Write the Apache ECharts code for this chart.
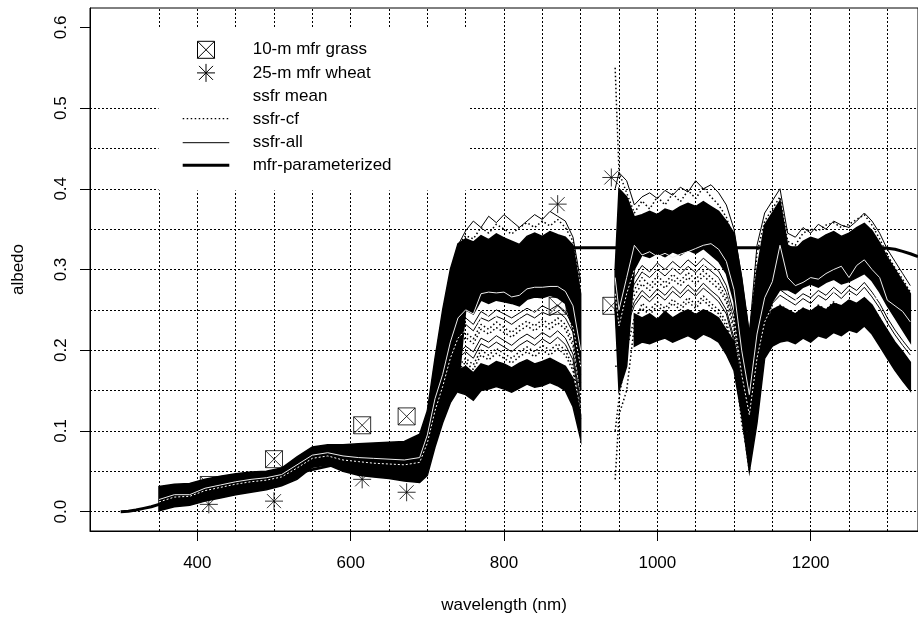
<!DOCTYPE html>
<html>
<head>
<meta charset="utf-8">
<script src="https://cdn.jsdelivr.net/npm/echarts@6/dist/echarts.min.js"></script>
<style>
html,body{margin:0;padding:0;background:#fff;}
#c{width:918px;height:619px;}
</style>
</head>
<body>
<div id="c"></div>
<script>
// ---------------- data ----------------
const wavelength = [350,370,390,410,430,450,470,490,510,530,550,570,590,610,630,650,670,690,
  700,710,720,730,740,750,760,770,780,790,800,810,820,830,840,850,860,870,880,890,900,
  925,
  945,950,960,970,980,990,1000,1010,1020,1030,1040,1050,1060,1070,1080,1090,1100,1110,1120,1130,
  1140,1150,1160,1170,1180,1190,1200,1210,1220,1230,1240,1250,1260,1270,1280,1290,1300,1310,1320,1330];

// dense part of the ssfr spectra cloud (upper block)
const ssfrDenseTop = [0.031,0.034,0.035,0.040,0.044,0.047,0.049,0.050,0.054,0.068,0.080,0.083,0.083,0.084,0.085,0.086,0.087,0.096,
  0.125,0.19,0.25,0.30,0.332,0.338,0.334,0.342,0.337,0.344,0.339,0.335,0.331,0.341,0.345,0.341,0.347,0.343,0.34,0.33,0.27,
  null,
  0.30,0.40,0.39,0.365,0.368,0.372,0.368,0.375,0.372,0.378,0.382,0.378,0.384,0.378,0.372,0.36,0.345,0.29,0.22,0.30,
  0.355,0.37,0.385,0.33,0.325,0.335,0.34,0.337,0.343,0.347,0.341,0.345,0.352,0.357,0.348,0.333,0.315,0.30,0.285,0.27];
const ssfrDenseBottom = [0.001,0.006,0.008,0.013,0.017,0.021,0.024,0.027,0.032,0.040,0.055,0.058,0.050,0.045,0.043,0.041,0.038,0.036,
  0.045,0.08,0.11,0.135,0.15,0.25,0.245,0.262,0.258,0.262,0.26,0.258,0.255,0.263,0.266,0.265,0.268,0.265,0.258,0.225,0.15,
  null,
  0.25,0.15,0.18,0.30,0.318,0.315,0.32,0.316,0.322,0.318,0.324,0.32,0.326,0.318,0.31,0.295,0.26,0.16,0.08,0.14,
  0.22,0.26,0.275,0.275,0.27,0.278,0.282,0.278,0.284,0.288,0.282,0.285,0.29,0.295,0.286,0.272,0.255,0.24,0.225,0.21];
// dense lower block
const ssfrLowTop = [null,null,null,null,null,null,null,null,null,null,null,null,null,null,null,null,null,null,
  null,null,null,null,0.175,0.18,0.172,0.183,0.18,0.186,0.183,0.178,0.184,0.188,0.183,0.186,0.19,0.185,0.18,0.165,0.12,
  null,
  null,null,null,0.245,0.24,0.245,0.238,0.248,0.24,0.246,0.25,0.244,0.25,0.246,0.24,0.225,0.21,0.16,0.08,0.14,
  0.225,0.25,0.255,0.25,0.245,0.252,0.248,0.255,0.25,0.258,0.255,0.262,0.258,0.265,0.256,0.24,0.225,0.21,0.198,0.185];
const ssfrLowBottom = [null,null,null,null,null,null,null,null,null,null,null,null,null,null,null,null,null,null,
  null,null,null,null,0.148,0.145,0.138,0.15,0.152,0.155,0.152,0.148,0.153,0.158,0.154,0.156,0.16,0.156,0.15,0.13,0.09,
  null,
  null,null,null,0.205,0.21,0.208,0.212,0.215,0.21,0.214,0.218,0.213,0.22,0.216,0.21,0.195,0.175,0.12,0.05,0.11,
  0.19,0.205,0.21,0.212,0.208,0.215,0.21,0.218,0.215,0.222,0.218,0.225,0.222,0.23,0.22,0.205,0.19,0.175,0.162,0.15];

// individual ssfr-all spectra (thin solid)
const ssfrAllA = [0.018,0.022,0.024,0.028,0.031,0.035,0.038,0.040,0.044,0.055,0.066,0.069,0.064,0.061,0.059,0.057,0.056,0.06,
  0.085,0.125,0.16,0.195,0.228,0.24,0.232,0.248,0.242,0.25,0.245,0.24,0.246,0.252,0.247,0.255,0.25,0.256,0.248,0.23,0.17,
  null,
  0.28,0.22,0.27,0.29,0.305,0.297,0.308,0.3,0.31,0.302,0.312,0.304,0.314,0.306,0.298,0.28,0.245,0.18,0.12,0.2,
  0.25,0.265,0.275,0.268,0.262,0.27,0.265,0.274,0.268,0.278,0.27,0.28,0.274,0.284,0.272,0.258,0.24,0.225,0.212,0.2];
const ssfrAllB = [0.011,0.014,0.016,0.021,0.024,0.028,0.031,0.033,0.037,0.047,0.06,0.062,0.056,0.052,0.049,0.047,0.045,0.048,
  0.068,0.1,0.135,0.165,0.195,0.205,0.198,0.215,0.21,0.218,0.212,0.206,0.214,0.22,0.214,0.222,0.216,0.224,0.215,0.195,0.135,
  null,
  0.26,0.19,0.235,0.26,0.274,0.265,0.276,0.268,0.279,0.27,0.281,0.272,0.283,0.274,0.266,0.25,0.215,0.15,0.1,0.16,
  0.215,0.235,0.243,0.237,0.232,0.24,0.234,0.244,0.238,0.248,0.24,0.25,0.243,0.253,0.242,0.228,0.212,0.198,0.185,0.172];
const ssfrAllC = [0.029,0.032,0.033,0.038,0.041,0.044,0.046,0.048,0.052,0.065,0.077,0.08,0.079,0.08,0.081,0.082,0.083,0.09,
  0.115,0.18,0.24,0.29,0.33,0.348,0.36,0.352,0.366,0.358,0.368,0.36,0.352,0.36,0.368,0.362,0.372,0.366,0.36,0.34,0.285,
  null,
  0.40,0.42,0.41,0.38,0.39,0.395,0.388,0.398,0.392,0.402,0.396,0.41,0.4,0.405,0.395,0.38,0.35,0.29,0.22,0.33,
  0.37,0.385,0.4,0.345,0.34,0.352,0.345,0.356,0.35,0.36,0.355,0.352,0.36,0.37,0.36,0.345,0.325,0.31,0.295,0.28];
const ssfrAllD = [0.016,0.02,0.022,0.026,0.03,0.033,0.036,0.038,0.042,0.052,0.064,0.067,0.062,0.058,0.056,0.054,0.053,0.057,
  0.08,0.118,0.152,0.188,0.22,0.232,0.224,0.24,0.236,0.242,0.238,0.232,0.239,0.245,0.24,0.247,0.243,0.248,0.24,0.222,0.16,
  null,
  0.27,0.21,0.26,0.282,0.297,0.29,0.3,0.292,0.302,0.294,0.304,0.296,0.306,0.298,0.29,0.272,0.238,0.17,0.11,0.19,
  0.242,0.258,0.268,0.262,0.256,0.264,0.258,0.268,0.262,0.272,0.264,0.274,0.268,0.278,0.266,0.252,0.234,0.219,0.206,0.194];
const ssfrAllE = [0.01,0.013,0.015,0.02,0.023,0.027,0.03,0.032,0.036,0.046,0.059,0.061,0.055,0.051,0.048,0.046,0.044,0.047,
  0.064,0.096,0.13,0.16,0.19,0.198,0.19,0.208,0.203,0.21,0.204,0.198,0.206,0.212,0.206,0.214,0.208,0.216,0.207,0.188,0.128,
  null,
  0.25,0.18,0.23,0.255,0.268,0.26,0.27,0.262,0.273,0.265,0.275,0.267,0.277,0.269,0.26,0.245,0.21,0.14,0.09,0.155,
  0.21,0.23,0.238,0.232,0.227,0.234,0.229,0.238,0.233,0.242,0.235,0.245,0.238,0.248,0.237,0.222,0.207,0.193,0.18,0.168];
// individual ssfr-cf spectra (dotted)
const ssfrCfA = [0.014,0.017,0.019,0.024,0.027,0.031,0.034,0.036,0.040,0.050,0.062,0.065,0.059,0.055,0.053,0.051,0.049,0.053,
  0.075,0.11,0.145,0.18,0.21,0.222,0.214,0.232,0.226,0.235,0.228,0.222,0.23,0.236,0.23,0.238,0.232,0.24,0.232,0.21,0.15,
  null,
  0.2,0.2,0.25,0.275,0.29,0.28,0.292,0.283,0.294,0.286,0.296,0.288,0.298,0.29,0.282,0.265,0.23,0.16,0.08,0.17,
  0.23,0.248,0.256,0.25,0.244,0.252,0.246,0.256,0.25,0.26,0.252,0.262,0.255,0.265,0.254,0.24,0.222,0.208,0.195,0.183];
const ssfrCfB = [0.008,0.011,0.013,0.018,0.021,0.025,0.028,0.030,0.034,0.044,0.058,0.06,0.054,0.05,0.047,0.045,0.042,0.044,
  0.06,0.09,0.125,0.155,0.18,0.19,0.182,0.2,0.194,0.202,0.196,0.19,0.198,0.204,0.198,0.206,0.2,0.208,0.2,0.18,0.12,
  null,
  0.04,0.12,0.15,0.23,0.258,0.25,0.26,0.252,0.263,0.255,0.265,0.257,0.267,0.258,0.25,0.235,0.2,0.12,0.05,0.14,
  0.2,0.222,0.23,0.225,0.22,0.228,0.222,0.232,0.226,0.236,0.228,0.238,0.231,0.241,0.23,0.216,0.2,0.186,0.173,0.16];
const ssfrCfC = [0.03,0.033,0.034,0.039,0.042,0.045,0.047,0.049,0.053,0.066,0.078,0.081,0.08,0.082,0.083,0.084,0.085,0.093,
  0.12,0.185,0.245,0.295,0.33,0.342,0.338,0.352,0.345,0.356,0.35,0.344,0.352,0.358,0.352,0.36,0.354,0.362,0.352,0.335,0.28,
  null,
  0.55,0.42,0.395,0.37,0.385,0.375,0.39,0.38,0.394,0.384,0.398,0.388,0.402,0.39,0.38,0.365,0.335,0.28,0.21,0.32,
  0.36,0.375,0.39,0.335,0.33,0.345,0.35,0.348,0.355,0.358,0.352,0.356,0.362,0.368,0.355,0.338,0.318,0.302,0.288,0.272];
const ssfrCfD = [0.013,0.016,0.018,0.023,0.026,0.03,0.033,0.035,0.039,0.049,0.061,0.064,0.058,0.054,0.052,0.05,0.048,0.052,
  0.072,0.106,0.14,0.175,0.205,0.216,0.208,0.226,0.22,0.228,0.222,0.216,0.224,0.23,0.224,0.232,0.226,0.234,0.226,0.205,0.145,
  null,
  0.18,0.18,0.24,0.268,0.282,0.274,0.285,0.277,0.288,0.28,0.29,0.282,0.292,0.284,0.276,0.26,0.225,0.155,0.075,0.165,
  0.225,0.242,0.25,0.245,0.24,0.247,0.241,0.25,0.245,0.255,0.247,0.257,0.25,0.26,0.249,0.235,0.218,0.204,0.19,0.178];
const ssfrCfE = [0.007,0.01,0.012,0.017,0.02,0.024,0.027,0.029,0.033,0.043,0.057,0.059,0.053,0.049,0.046,0.044,0.041,0.043,
  0.058,0.088,0.12,0.15,0.175,0.185,0.176,0.194,0.188,0.196,0.19,0.184,0.192,0.198,0.192,0.2,0.194,0.202,0.194,0.175,0.115,
  null,
  0.1,0.14,0.2,0.24,0.252,0.244,0.255,0.247,0.258,0.25,0.26,0.252,0.262,0.253,0.245,0.23,0.195,0.11,0.06,0.13,
  0.195,0.218,0.226,0.22,0.215,0.222,0.217,0.227,0.221,0.231,0.223,0.233,0.226,0.236,0.225,0.21,0.195,0.181,0.168,0.156];

// ssfr means (white)
const ssfrMeanAll = [0.015,0.021,0.021,0.029,0.033,0.037,0.040,0.042,0.046,0.058,0.070,0.073,0.069,0.067,0.066,0.065,0.064,0.067,
  0.095,0.14,0.17,0.21,0.24,0.25,0.245,0.27,0.272,0.271,0.272,0.266,0.268,0.276,0.278,0.278,0.279,0.279,0.273,0.255,0.2,
  null,
  0.29,0.25,0.29,0.33,0.318,0.322,0.316,0.32,0.315,0.319,0.322,0.326,0.33,0.332,0.325,0.31,0.275,0.2,0.145,0.22,
  0.265,0.285,0.33,0.29,0.28,0.284,0.29,0.288,0.295,0.3,0.304,0.29,0.305,0.312,0.3,0.29,0.262,0.255,0.248,0.235];
const ssfrMeanCf = [0.012,0.018,0.019,0.026,0.030,0.034,0.037,0.039,0.043,0.054,0.066,0.069,0.064,0.062,0.060,0.059,0.058,0.061,
  0.085,0.125,0.155,0.19,0.215,0.225,0.22,0.24,0.243,0.242,0.243,0.238,0.24,0.247,0.249,0.248,0.25,0.249,0.244,0.228,0.18,
  null,
  0.27,0.23,0.27,0.3,0.298,0.292,0.3,0.295,0.302,0.298,0.305,0.3,0.306,0.3,0.292,0.275,0.24,0.17,0.12,0.19,
  0.235,0.255,0.262,0.258,0.262,0.266,0.262,0.27,0.265,0.272,0.268,0.276,0.27,0.28,0.27,0.26,0.245,0.232,0.22,0.205];

// mfr-parameterized spectrum
const mfrWavelength = [300,310,320,330,340,350,400,450,500,550,600,650,680,690,700,710,720,730,740,750,800,900,1000,1100,1200,1280,1290,1300,1310,1320,1330,1340];
const mfrParameterized = [0,0.0005,0.002,0.004,0.006,0.009,0.0198,0.0306,0.041,0.052,0.0626,0.068,0.07,0.075,0.09,0.14,0.2,0.26,0.305,0.325,0.327,0.327,0.327,0.327,0.327,0.327,0.3268,0.3262,0.325,0.3225,0.3195,0.316];

// MFR channel albedos
const mfrChannels = [415, 500, 615, 673, 870, 940];
const grass10m = [0.033, 0.065, 0.107, 0.118, 0.255, 0.255];
const wheat25m = [0.009, 0.013, 0.040, 0.024, 0.381, 0.414];

// axes
const xTicks = [400, 600, 800, 1000, 1200];
const yTicks = [0, 0.1, 0.2, 0.3, 0.4, 0.5, 0.6];
const gridX = [350,400,450,500,550,600,650,700,750,800,850,900,950,1000,1050,1100,1150,1200,1250,1300];
const gridY = [0,0.05,0.1,0.15,0.2,0.25,0.3,0.35,0.4,0.45,0.5];

const legendLabels = ['10-m mfr grass','25-m mfr wheat','ssfr mean','ssfr-cf','ssfr-all','mfr-parameterized'];

// ---------------- chart ----------------
const FONT = '"Liberation Sans", Arial, Helvetica, sans-serif';
const GRIDDOT = [2, 2];
const DOT = [1.5, 2.5];
const boxX = 'path://M0,0L17,0L17,17L0,17ZM0,0L17,17M17,0L0,17';
const star = 'path://M9,0L9,18M0,9L18,9M2,2L16,16M16,2L2,16';

function curve(name, vals, dash, color, width, z) {
  return {
    type: 'line', name: name, z: z, silent: true, animation: false,
    symbol: 'none', showSymbol: false, connectNulls: false,
    lineStyle: {color: color, width: width, type: dash},
    data: wavelength.map((w, i) => [w, vals[i] == null ? '-' : vals[i]])
  };
}
function band(name, top, bottom) {
  const runs = [];
  let cur = null;
  for (let i = 0; i < wavelength.length; i++) {
    if (top[i] != null && bottom[i] != null) {
      if (!cur) { cur = []; runs.push(cur); }
      cur.push(i);
    } else cur = null;
  }
  return {
    type: 'custom', name: name, z: 3, silent: true, animation: false,
    data: runs.map(r => [wavelength[r[0]], top[r[0]]]),
    encode: {x: 0, y: 1},
    renderItem: function (params, api) {
      const r = runs[params.dataIndex];
      const pts = r.map(i => api.coord([wavelength[i], top[i]]))
        .concat(r.slice().reverse().map(i => api.coord([wavelength[i], bottom[i]])));
      return {type: 'polygon', shape: {points: pts}, style: {fill: '#000', stroke: '#000', lineWidth: 1.5}};
    }
  };
}

const series = [
  {
    type: 'line', name: 'grid', z: 1, silent: true, animation: false, data: [],
    markLine: {
      silent: true, animation: false, symbol: ['none', 'none'], label: {show: false},
      lineStyle: {color: '#000', width: 1, type: GRIDDOT},
      emphasis: {disabled: true},
      data: gridX.map(v => ({xAxis: v})).concat(gridY.map(v => ({yAxis: v})))
    }
  },
  {
    type: 'scatter', name: legendLabels[0], z: 2, silent: true, animation: false,
    symbol: boxX, symbolSize: 17,
    itemStyle: {color: 'rgba(0,0,0,0)', borderColor: '#000', borderWidth: 1},
    data: mfrChannels.map((w, i) => [w, grass10m[i]])
  },
  {
    type: 'scatter', name: legendLabels[1], z: 2, silent: true, animation: false,
    symbol: star, symbolSize: 18,
    itemStyle: {color: 'rgba(0,0,0,0)', borderColor: '#000', borderWidth: 1},
    data: mfrChannels.map((w, i) => [w, wheat25m[i]])
  },
  band('ssfr-all', ssfrDenseTop, ssfrDenseBottom),
  band('ssfr-all', ssfrLowTop, ssfrLowBottom),
  curve(legendLabels[4], ssfrAllA, 'solid', '#000', 1, 3),
  curve(legendLabels[4], ssfrAllB, 'solid', '#000', 1, 3),
  curve(legendLabels[4], ssfrAllC, 'solid', '#000', 1, 3),
  curve(legendLabels[4], ssfrAllD, 'solid', '#000', 1, 3),
  curve(legendLabels[4], ssfrAllE, 'solid', '#000', 1, 3),
  curve(legendLabels[3], ssfrCfA, DOT, '#000', 1.5, 3),
  curve(legendLabels[3], ssfrCfB, DOT, '#000', 1.5, 3),
  curve(legendLabels[3], ssfrCfC, DOT, '#000', 1.5, 3),
  curve(legendLabels[3], ssfrCfD, DOT, '#000', 1.5, 3),
  curve(legendLabels[3], ssfrCfE, DOT, '#000', 1.5, 3),
  {
    type: 'line', name: legendLabels[5], z: 4, silent: true, animation: false,
    symbol: 'none', showSymbol: false,
    lineStyle: {color: '#000', width: 3},
    data: mfrWavelength.map((w, i) => [w, mfrParameterized[i]])
  },
  curve(legendLabels[2], ssfrMeanCf, [2, 2], '#ffffff', 1, 5),
  curve(legendLabels[2], ssfrMeanAll, 'solid', '#eeeeee', 1, 5)
];

// legend (drawn as graphics, R style)
const LX = 252.7, LY0 = 49.8, LDY = 23.1;
const legendGraphics = [
  {type: 'rect', z: 100, shape: {x: 158.5, y: 27, width: 311, height: 163.5}, style: {fill: '#fff'}},
  {type: 'rect', z: 101, shape: {x: 197.5, y: LY0 - 8.5, width: 17, height: 17}, style: {fill: 'none', stroke: '#000', lineWidth: 1}},
  {type: 'line', z: 101, shape: {x1: 197.5, y1: LY0 - 8.5, x2: 214.5, y2: LY0 + 8.5}, style: {stroke: '#000', lineWidth: 1}},
  {type: 'line', z: 101, shape: {x1: 214.5, y1: LY0 - 8.5, x2: 197.5, y2: LY0 + 8.5}, style: {stroke: '#000', lineWidth: 1}},
  {type: 'line', z: 101, shape: {x1: 206, y1: LY0 + LDY - 9, x2: 206, y2: LY0 + LDY + 9}, style: {stroke: '#000', lineWidth: 1}},
  {type: 'line', z: 101, shape: {x1: 197, y1: LY0 + LDY, x2: 215, y2: LY0 + LDY}, style: {stroke: '#000', lineWidth: 1}},
  {type: 'line', z: 101, shape: {x1: 199, y1: LY0 + LDY - 7, x2: 213, y2: LY0 + LDY + 7}, style: {stroke: '#000', lineWidth: 1}},
  {type: 'line', z: 101, shape: {x1: 213, y1: LY0 + LDY - 7, x2: 199, y2: LY0 + LDY + 7}, style: {stroke: '#000', lineWidth: 1}},
  {type: 'line', z: 101, shape: {x1: 182.7, y1: LY0 + 3 * LDY - 0.5, x2: 229.3, y2: LY0 + 3 * LDY - 0.5}, style: {stroke: '#000', lineWidth: 1.2, lineDash: DOT}},
  {type: 'line', z: 101, shape: {x1: 182.7, y1: LY0 + 4 * LDY + 0.5, x2: 229.3, y2: LY0 + 4 * LDY + 0.5}, style: {stroke: '#000', lineWidth: 1}},
  {type: 'line', z: 101, shape: {x1: 182.7, y1: LY0 + 5 * LDY, x2: 229.3, y2: LY0 + 5 * LDY}, style: {stroke: '#000', lineWidth: 3}}
].concat(legendLabels.map((t, i) => ({
  type: 'text', z: 101, x: LX, y: LY0 + i * LDY,
  style: {text: t, font: '17px ' + FONT, fill: '#000', textAlign: 'left', textVerticalAlign: 'middle'}
})));

const chart = echarts.init(document.getElementById('c'), null, {renderer: 'canvas'});
chart.setOption({
  animation: false,
  backgroundColor: '#fff',
  grid: {left: 90, top: 8, right: -10.4, bottom: 87.3, show: true, borderColor: '#000', borderWidth: 1, backgroundColor: 'rgba(0,0,0,0)'},
  xAxis: {
    type: 'value', min: 260, max: 1340,
    name: 'wavelength (nm)', nameLocation: 'middle', nameGap: 66,
    nameTextStyle: {fontSize: 17, color: '#000', fontFamily: FONT},
    axisLine: {show: true, onZero: false, lineStyle: {color: '#000', width: 1}},
    axisTick: {show: true, length: 10, customValues: xTicks, lineStyle: {color: '#000', width: 1}},
    axisLabel: {customValues: xTicks, margin: 24, fontSize: 17, color: '#000', fontFamily: FONT,
      formatter: v => String(Math.round(v))},
    splitLine: {show: false}
  },
  yAxis: {
    type: 'value', min: -0.024, max: 0.624,
    name: 'albedo', nameLocation: 'middle', nameGap: 63,
    nameTextStyle: {fontSize: 17, color: '#000', fontFamily: FONT},
    axisLine: {show: true, onZero: false, lineStyle: {color: '#000', width: 1}},
    axisTick: {show: true, length: 10, customValues: yTicks, lineStyle: {color: '#000', width: 1}},
    axisLabel: {customValues: yTicks, rotate: 90, margin: 20, fontSize: 17, color: '#000', fontFamily: FONT,
      formatter: v => Number(v).toFixed(1)},
    splitLine: {show: false}
  },
  graphic: {elements: legendGraphics},
  series: series
});
</script>
</body>
</html>
